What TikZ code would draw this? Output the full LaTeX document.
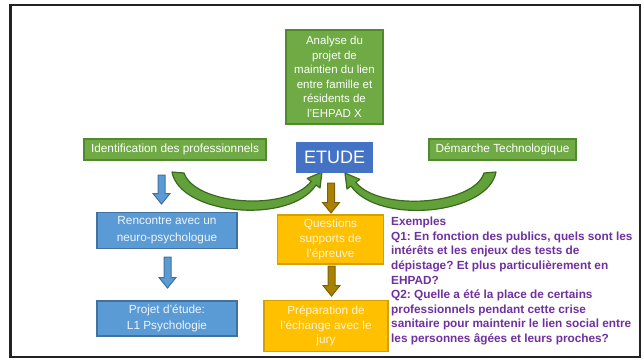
\documentclass[tikz,border=0pt]{standalone}
\usepackage{fontspec}
\setmainfont{Liberation Sans}
\frenchspacing
\definecolor{gfill}{HTML}{6FAA45}
\definecolor{gline}{HTML}{4F8A2F}
\definecolor{bfill}{HTML}{5B9BD5}
\definecolor{bline}{HTML}{41719C}
\definecolor{btext}{HTML}{EEF4FB}
\definecolor{etfill}{HTML}{4472C4}
\definecolor{ofill}{HTML}{FFC000}
\definecolor{oline}{HTML}{D4A000}
\definecolor{otext}{HTML}{FFF4D6}
\definecolor{gdfill}{HTML}{A88200}
\definecolor{gdline}{HTML}{7F6000}
\definecolor{cfill}{HTML}{62A03A}
\definecolor{cline}{HTML}{3B6A1E}
\definecolor{purp}{HTML}{7030A0}
\definecolor{framec}{HTML}{222222}
\newcommand\blockarrow[4]{\draw[#4] (#1-3.5,#2) -- (#1+3.5,#2) -- (#1+3.5,#3-10.5) -- (#1+8.5,#3-10.5) -- (#1,#3) -- (#1-8.5,#3-10.5) -- (#1-3.5,#3-10.5) -- cycle;}
\begin{document}
\begin{tikzpicture}[x=1pt,y=-1pt,
  box/.style={draw, line width=1.2pt, inner sep=0pt, align=center},
  gbox/.style={box, fill=gfill, draw=gline, text=white},
  bbox/.style={box, fill=bfill, draw=bline, text=btext},
  obox/.style={box, fill=ofill, draw=oline, text=otext},
  txt/.style={font=\fontsize{11.8}{14.5}\selectfont},
  bluearr/.style={fill=bfill, draw=bline, line width=1pt, line join=miter},
  goldarr/.style={fill=gdfill, draw=gdline, line width=1pt, line join=miter},
  curvearr/.style={fill=cfill, draw=cline, line width=1.2pt, line join=round}]
\useasboundingbox (0,0) rectangle (644,359);
\fill[white] (0,0) rectangle (644,359);
\draw[framec, line width=2.5pt] (10.5,5) rectangle (640,357);

% curved arrows
\draw[curvearr] (172,172) .. controls (180,215) and (290,225) .. (316,185) -- (320,188) -- (322,172) -- (307.2,178.4) -- (311.2,181.4) .. controls (287,212) and (195,205) .. (184,173) -- cycle;
\draw[curvearr] (496,172) .. controls (488,215) and (378,225) .. (351,186) -- (347,189) -- (345,173) -- (359.8,179.4) -- (355.8,182.4) .. controls (380,212) and (474,205) .. (484,173) -- cycle;

\node[gbox, minimum width=97pt, minimum height=94pt, font=\fontsize{11.5}{14.5}\selectfont] (ana) at (334.5,77) {Analyse du\\projet de\\maintien du lien\\entre famille et\\résidents de\\l'EHPAD X};
\node[gbox, minimum width=182pt, minimum height=21pt, txt] (idp) at (175,149.5) {Identification des professionnels};
\node[box, fill=etfill, draw=etfill, text=white, minimum width=75pt, minimum height=29pt, font=\fontsize{18}{20}\selectfont] (etude) at (334.5,157.5) {ETUDE};
\node[gbox, minimum width=147pt, minimum height=21pt, txt] (dem) at (502.5,149.5) {Démarche Technologique};

\node[bbox, minimum width=140pt, minimum height=36pt, font=\fontsize{11.8}{17}\selectfont] (ren) at (167,230.5) {Rencontre avec un\\neuro-psychologue};
\node[bbox, minimum width=140pt, minimum height=35pt, font=\fontsize{11.8}{16}\selectfont] (proj) at (167,318.5) {Projet d'étude:\\L1 Psychologie};
\node[obox, minimum width=106pt, minimum height=49pt, font=\fontsize{11.8}{14.7}\selectfont] (que) at (330.5,239.5) {Questions\\supports de\\l'épreuve};
\node[obox, minimum width=124pt, minimum height=51pt, font=\fontsize{11.8}{14.7}\selectfont] (prep) at (326,326) {Préparation de\\l'échange avec le\\jury};

% block arrows
\blockarrow{161.5}{175}{204}{bluearr}
\blockarrow{167.5}{257}{288}{bluearr}
\blockarrow{331}{183}{213}{goldarr}
\blockarrow{331.5}{266}{296}{goldarr}

\node[anchor=north west, inner sep=0pt, align=left, text=purp, font=\bfseries\fontsize{11.8}{14.6}\selectfont] (ex) at (391,217) {Exemples\\Q1: En fonction des publics, quels sont les\\intérêts et les enjeux des tests de\\dépistage? Et plus particulièrement en\\EHPAD?\\Q2: Quelle a été la place de certains\\professionnels pendant cette crise\\sanitaire pour maintenir le lien social entre\\les personnes âgées et leurs proches?};
\end{tikzpicture}
\end{document}
